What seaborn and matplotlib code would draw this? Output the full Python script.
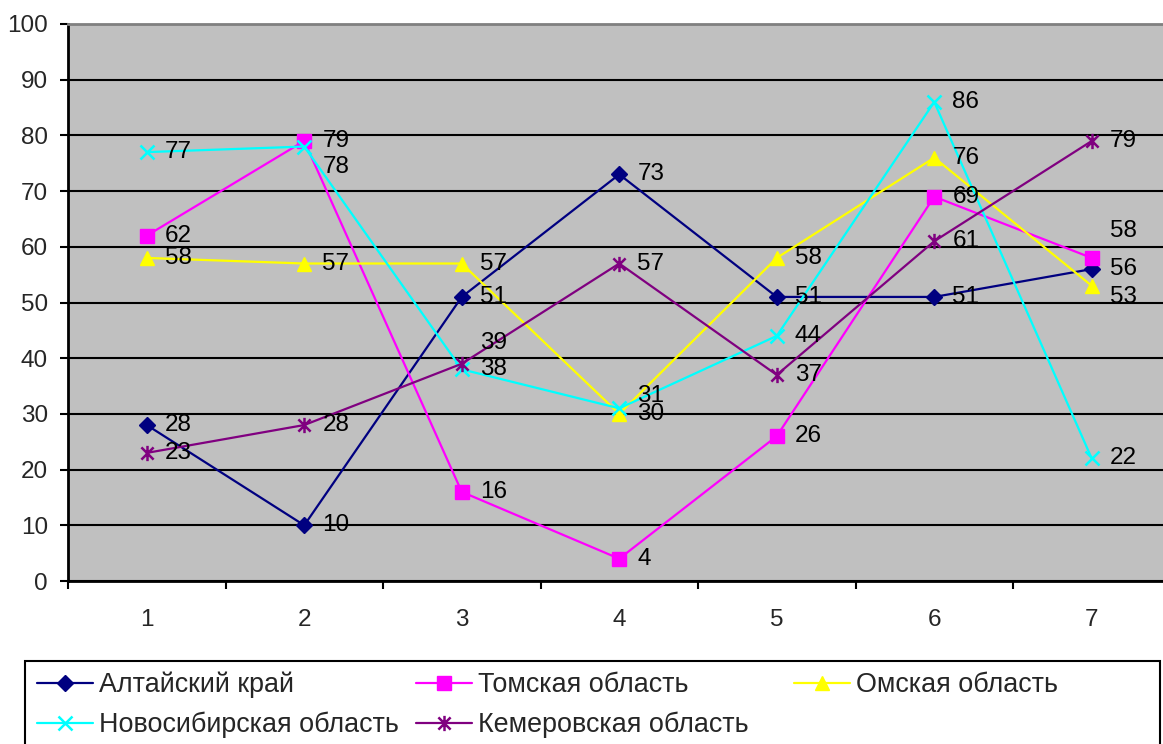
import matplotlib
matplotlib.use("Agg")
import matplotlib.pyplot as plt
from matplotlib.path import Path
from matplotlib.patches import Rectangle
import seaborn as sns
import pandas as pd

# Data
periods = [1, 2, 3, 4, 5, 6, 7]
altai = [28, 10, 51, 73, 51, 51, 56]
tomsk = [62, 79, 16, 4, 26, 69, 58]
omsk = [58, 57, 57, 30, 58, 76, 53]
novosib = [77, 78, 38, 31, 44, 86, 22]
kemerovo = [23, 28, 39, 57, 37, 61, 79]
names = ["Алтайский край", "Томская область", "Омская область",
         "Новосибирская область", "Кемеровская область"]

sns.set_theme(style="white")
plt.rcParams["font.family"] = ["Liberation Sans", "DejaVu Sans"]

W, H = 1163, 744

# Asterisk marker: vertical bar plus an X
star = Path([(0, -1), (0, 1), (-0.8, -0.8), (0.8, 0.8), (-0.8, 0.8), (0.8, -0.8)],
            [Path.MOVETO, Path.LINETO, Path.MOVETO, Path.LINETO, Path.MOVETO, Path.LINETO])

styles = [
    dict(color="#000080", marker="D", ms=8),
    dict(color="#FF00FF", marker="s", ms=10),
    dict(color="#FFFF00", marker="^", ms=10),
    dict(color="#00FFFF", marker="x", ms=10),
    dict(color="#800080", marker=star, ms=11),
]
series = [altai, tomsk, omsk, novosib, kemerovo]

# label offsets in points (dx, dy) for crowded spots
label_shift = {
    (3, 1): (13, -15),
    (4, 2): (13, 15),
    (3, 3): (13, 9),
    (1, 6): (13, 19.5),
    (2, 6): (13, -8),
}

fig = plt.figure(figsize=(W / 100, H / 100), dpi=100)
fig.patch.set_facecolor("white")
ax = fig.add_axes([68 / W, 1 - 581 / H, (1170.5 - 68) / W, (581 - 24) / H])
ax.set_facecolor("#C0C0C0")

handles = []
for i, (vals, st) in enumerate(zip(series, styles)):
    df = pd.DataFrame({"x": periods, "y": vals})
    sns.lineplot(data=df, x="x", y="y", ax=ax, color=st["color"], lw=1.6,
                 marker=st["marker"], markersize=st["ms"],
                 markeredgecolor=st["color"], markerfacecolor=st["color"],
                 markeredgewidth=1.8 if i >= 3 else 1.0, label=names[i], legend=False,
                 zorder=3 + i)
    handles.append(ax.lines[-1])

for i, vals in enumerate(series):
    for j, (x, v) in enumerate(zip(periods, vals)):
        dx, dy = label_shift.get((i, j), (13, 0))
        ax.annotate(str(v), (x, v), xytext=(dx, dy), textcoords="offset points",
                    ha="left", va="center", fontsize=17.5, color="black", zorder=20)

ax.set_xlim(0.5, 7.5)
ax.set_ylim(0, 100)
ax.set_yticks(range(0, 101, 10))
ax.set_xticks(periods)
ax.set_xticks([p + 0.5 for p in [0] + periods], minor=True)
ax.grid(axis="y", color="black", lw=1.5)
ax.grid(axis="x", visible=False)
ax.set_axisbelow(True)
ax.tick_params(axis="y", which="major", length=6, width=1.5, color="black",
               labelsize=17.5, pad=8.5, left=True)
ax.tick_params(axis="x", which="major", length=0, labelsize=17.5, pad=20)
ax.tick_params(axis="x", which="minor", length=6, width=1.5, color="black", bottom=True)
ax.set_xlabel("")
ax.set_ylabel("")
for s in ["left", "bottom"]:
    ax.spines[s].set_color("black")
    ax.spines[s].set_linewidth(2)
ax.spines["top"].set_color("#808080")
ax.spines["top"].set_linewidth(2)
ax.spines["right"].set_visible(False)

# legend box
fig.patches.append(Rectangle((25 / W, -0.01), (1160 - 25) / W, 1 - 661 / H + 0.01,
                             transform=fig.transFigure, fill=False, edgecolor="black",
                             lw=1.5, zorder=0))

# legend entries on a fixed grid: three columns, two rows
col_x = [37, 416, 794]
row_y = [685, 725]
slots = [(0, 0), (0, 1), (0, 2), (1, 0), (1, 1)]
for k, (r, c) in enumerate(slots):
    fig.legend([handles[k]], [names[k]], loc="center left",
               bbox_to_anchor=(col_x[c] / W, 1 - row_y[r] / H),
               frameon=False, fontsize=19.4, handlelength=2.08,
               handletextpad=0.22, borderaxespad=0, borderpad=0)

fig.savefig("out.png", dpi=100, facecolor="white")
